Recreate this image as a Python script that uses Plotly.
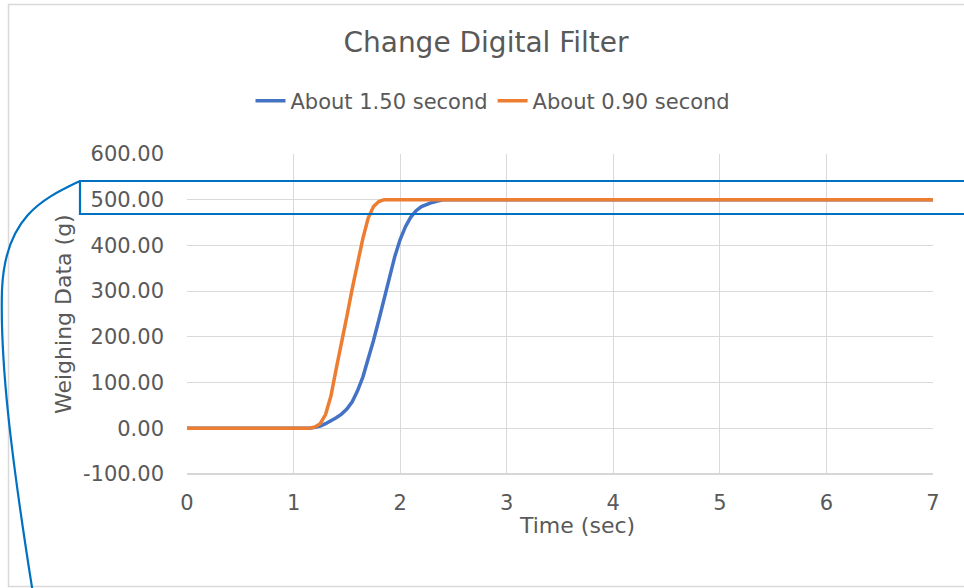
import plotly.graph_objects as go

# ---- data ----
time_blue = [0.0, 1.15, 1.20, 1.25, 1.30, 1.35, 1.40, 1.45, 1.50, 1.55, 1.60, 1.65, 1.70,
             1.75, 1.80, 1.85, 1.90, 1.95, 2.00, 2.05, 2.10, 2.15, 2.20, 2.25, 2.30,
             2.35, 2.40, 7.0]
weight_blue = [0, 0, 2, 5, 10, 16, 23, 31, 42, 58, 82, 112, 150,
               192, 237, 283, 330, 376, 413, 441, 462, 476, 485, 490, 494,
               497, 500, 500]

time_orange = [0.0, 1.15, 1.20, 1.25, 1.30, 1.35, 1.40, 1.45, 1.50, 1.55, 1.60, 1.65,
               1.70, 1.75, 1.80, 1.85, 7.0]
weight_orange = [0, 0, 3, 10, 30, 70, 130, 185, 245, 305, 360, 415,
                 460, 485, 496, 500, 500]

series_names = ["About 1.50 second", "About 0.90 second"]
x_ticks = [0, 1, 2, 3, 4, 5, 6, 7]
y_ticks = [-100, 0, 100, 200, 300, 400, 500, 600]
y_tick_labels = ["{:.2f}".format(v) for v in y_ticks]

W, H = 964, 588
L, R, T, B = 187, 933, 154, 474  # plot area in page pixels
FONT = "DejaVu Sans"
GREY = "#595959"


def px(x):
    return (x - L) / (R - L)


def py(y):
    return (B - y) / (B - T)


fig = go.Figure()
fig.add_trace(go.Scatter(x=time_blue, y=weight_blue, mode="lines", name=series_names[0],
                         line=dict(color="#4472C4", width=3.5)))
fig.add_trace(go.Scatter(x=time_orange, y=weight_orange, mode="lines", name=series_names[1],
                         line=dict(color="#ED7D31", width=3.5)))

fig.update_layout(
    width=W, height=H,
    margin=dict(l=L, r=W - R, t=T, b=H - B),
    paper_bgcolor="white", plot_bgcolor="white",
    font=dict(family=FONT, color=GREY, size=21),
    title=dict(text="Change Digital Filter", x=486 / W, xref="container", xanchor="center",
               y=1 - 42 / H, yref="container", yanchor="middle",
               font=dict(family=FONT, size=28, color=GREY)),
    legend=dict(orientation="h", x=px(493), xanchor="center", y=py(101), yanchor="middle",
                font=dict(family=FONT, size=21, color=GREY), bgcolor="rgba(0,0,0,0)"),
    showlegend=True,
)
fig.update_xaxes(range=[0, 7], tickvals=x_ticks, showgrid=True, gridcolor="#D9D9D9", gridwidth=1.3,
                 zeroline=False, showline=False, ticks="", ticklabelstandoff=14,
                 tickfont=dict(family=FONT, size=21, color=GREY))
fig.update_yaxes(range=[-100, 600], tickvals=y_ticks, ticktext=y_tick_labels, showgrid=True,
                 gridcolor="#D9D9D9", gridwidth=1.3, zeroline=False, showline=False, ticks="",
                 ticklabelstandoff=22, tickfont=dict(family=FONT, size=21, color=GREY))

# bottom axis line
fig.add_shape(type="line", xref="paper", yref="paper", x0=0, x1=1, y0=0, y1=0,
              line=dict(color="#C8C8C8", width=1.5), layer="below")

# axis titles
fig.add_annotation(text="Time (sec)", xref="paper", yref="paper", x=px(577), y=py(525),
                   showarrow=False, xanchor="center", yanchor="middle",
                   font=dict(family=FONT, size=22, color=GREY))
fig.add_annotation(text="Weighing Data (g)", xref="paper", yref="paper", x=px(63), y=py(314),
                   showarrow=False, textangle=-90, xanchor="center", yanchor="middle",
                   font=dict(family=FONT, size=22, color=GREY))

# chart border
fig.add_shape(type="rect", xref="paper", yref="paper", x0=px(8.5), x1=px(985), y0=py(586.5), y1=py(4.5),
              line=dict(color="#D9D9D9", width=1.5), layer="below")

# highlight box and callout curve
fig.add_shape(type="rect", xref="paper", yref="paper", x0=px(80), x1=px(990), y0=py(214), y1=py(181),
              line=dict(color="#0070C0", width=2.2), layer="above")
pts = [(80, 181), (45, 198), (5, 215), (2, 290), (0, 360), (10, 450), (34, 600)]
p = [(px(a), py(b)) for a, b in pts]
path = "M {:.5f},{:.5f} C {:.5f},{:.5f} {:.5f},{:.5f} {:.5f},{:.5f} C {:.5f},{:.5f} {:.5f},{:.5f} {:.5f},{:.5f}".format(
    *[c for pt in p for c in pt])
fig.add_shape(type="path", xref="paper", yref="paper", path=path,
              line=dict(color="#0070C0", width=2.2), layer="above")

fig.write_html("out.html", config={"displayModeBar": False},
               post_script="document.body.style.margin='0';")
